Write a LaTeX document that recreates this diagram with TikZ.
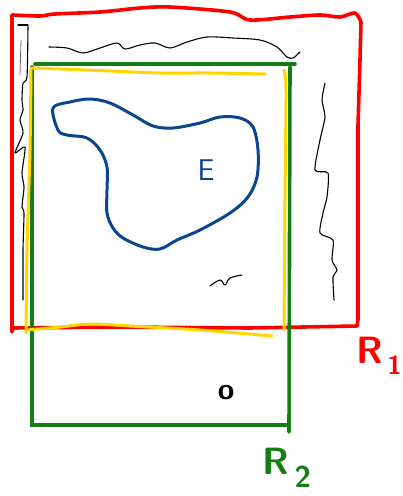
\documentclass[tikz,border=0pt]{standalone}
\usepackage{tikz}
\usetikzlibrary{positioning}
\definecolor{penred}{RGB}{255,0,0}
\definecolor{pengreen}{RGB}{20,125,20}
\definecolor{penyellow}{RGB}{255,214,0}
\definecolor{penblue}{RGB}{10,70,140}

\begin{document}
\begin{tikzpicture}[x=1pt, y=-1pt,
    redline/.style = {draw=penred, line width=3.6pt, line cap=round, line join=round},
    greenline/.style = {draw=pengreen, line width=3.6pt, line cap=round},
    yellowline/.style = {draw=penyellow, line width=3pt, line cap=round, line join=round},
    blueline/.style = {draw=penblue, line width=3pt, line cap=round, line join=round},
    pencil/.style = {draw=black, line width=1.1pt, line cap=round, line join=round},
    handlabel/.style = {inner sep=0pt, font=\sffamily\bfseries\fontsize{38}{38}\selectfont}
]
\useasboundingbox (0,0) rectangle (403,496);

% Region R1 (red)
\draw [redline] plot[smooth, tension=0.5] coordinates {(13,15) (40,16) (55,14) (100,12) (140,8) (170,7) (230,12) (250,20) (290,17) (320,15) (340,17) (355,13) (361,22)}
  -- (360,60) -- (358,125) -- (358,250) -- (358,320) -- (357,326)
  -- (250,328) -- (120,327) -- (12,328) -- (12,332) -- (12,15) -- cycle;

% Region R2 (green)
\draw [greenline] (35,64) -- (295,64);
\draw [greenline] (32,67) -- (32,425) -- (289,425);
\draw [greenline] (290,67) -- (289,432);

% Yellow outline
\draw [yellowline] plot[smooth, tension=0.5] coordinates {(31,68) (60,69) (110,71) (160,73) (210,73) (265,74)};
\draw [yellowline] plot[smooth, tension=0.5] coordinates {(284,70) (286,90) (285,200) (284,330)};
\draw [yellowline] plot[smooth, tension=0.5] coordinates {(31,70) (30,150) (27,250) (26,333)};
\draw [yellowline] plot[smooth, tension=0.5] coordinates {(26,330) (60,327) (90,324) (130,326) (200,330) (272,336)};

% Blob E (blue)
\draw [blueline] plot[smooth cycle, tension=0.55] coordinates {(53,108) (70,102) (90,99) (110,103) (133,115) (153,126) (173,128) (200,123) (220,117) (240,118) (253,127) (258,150) (257,177) (248,197) (230,213) (200,230) (177,240) (160,249) (143,247) (123,238) (113,228) (107,213) (107,190) (107,167) (100,150) (87,138) (67,135) (58,130)};

% Pencil strokes (black)
\draw [pencil] plot[smooth, tension=0.5] coordinates {(49,47) (67,48) (83,53) (100,48) (117,43) (125,49) (140,45) (155,43) (170,48) (187,42) (207,37) (233,38) (260,40) (277,47) (287,57) (293,58) (300,52)};
\draw [pencil] (18,25) -- (28,25);
\draw [pencil] plot[smooth, tension=0.4] coordinates {(28,26) (27,77) (23,83) (22,100) (23,110) (20,120) (23,133) (15,153) (25,147) (22,173) (24,187) (22,207) (24,213) (23,250) (23,300)};
\draw [draw=black!60, line width=0.8pt] (21,40) -- (20,75);
\draw [pencil] plot[smooth, tension=0.4] coordinates {(325,83) (322,100) (325,117) (320,140) (315,170) (328,173) (327,197) (323,213) (320,233) (333,240) (332,260) (337,270) (333,277) (334,300)};
\draw [pencil] plot[smooth, tension=0.6] coordinates {(210,286) (220,280) (225,285) (230,278) (242,275)};

% Labels
\node (lbl_e) [handlabel, text=penblue, font=\sffamily\fontsize{30}{30}\selectfont] at (206,170) {E};
\node (lbl_o) [handlabel, font=\sffamily\bfseries\fontsize{30}{30}\selectfont] at (226,393) {o};
\node (lbl_r1) [handlabel, text=penred] at (379,356) {R\raisebox{-0.3em}{\fontsize{26}{26}\selectfont\,1}};
\node (lbl_r2) [handlabel, text=pengreen] at (287,468) {R\raisebox{-0.35em}{\fontsize{30}{30}\selectfont\,2}};

\end{tikzpicture}
\end{document}
